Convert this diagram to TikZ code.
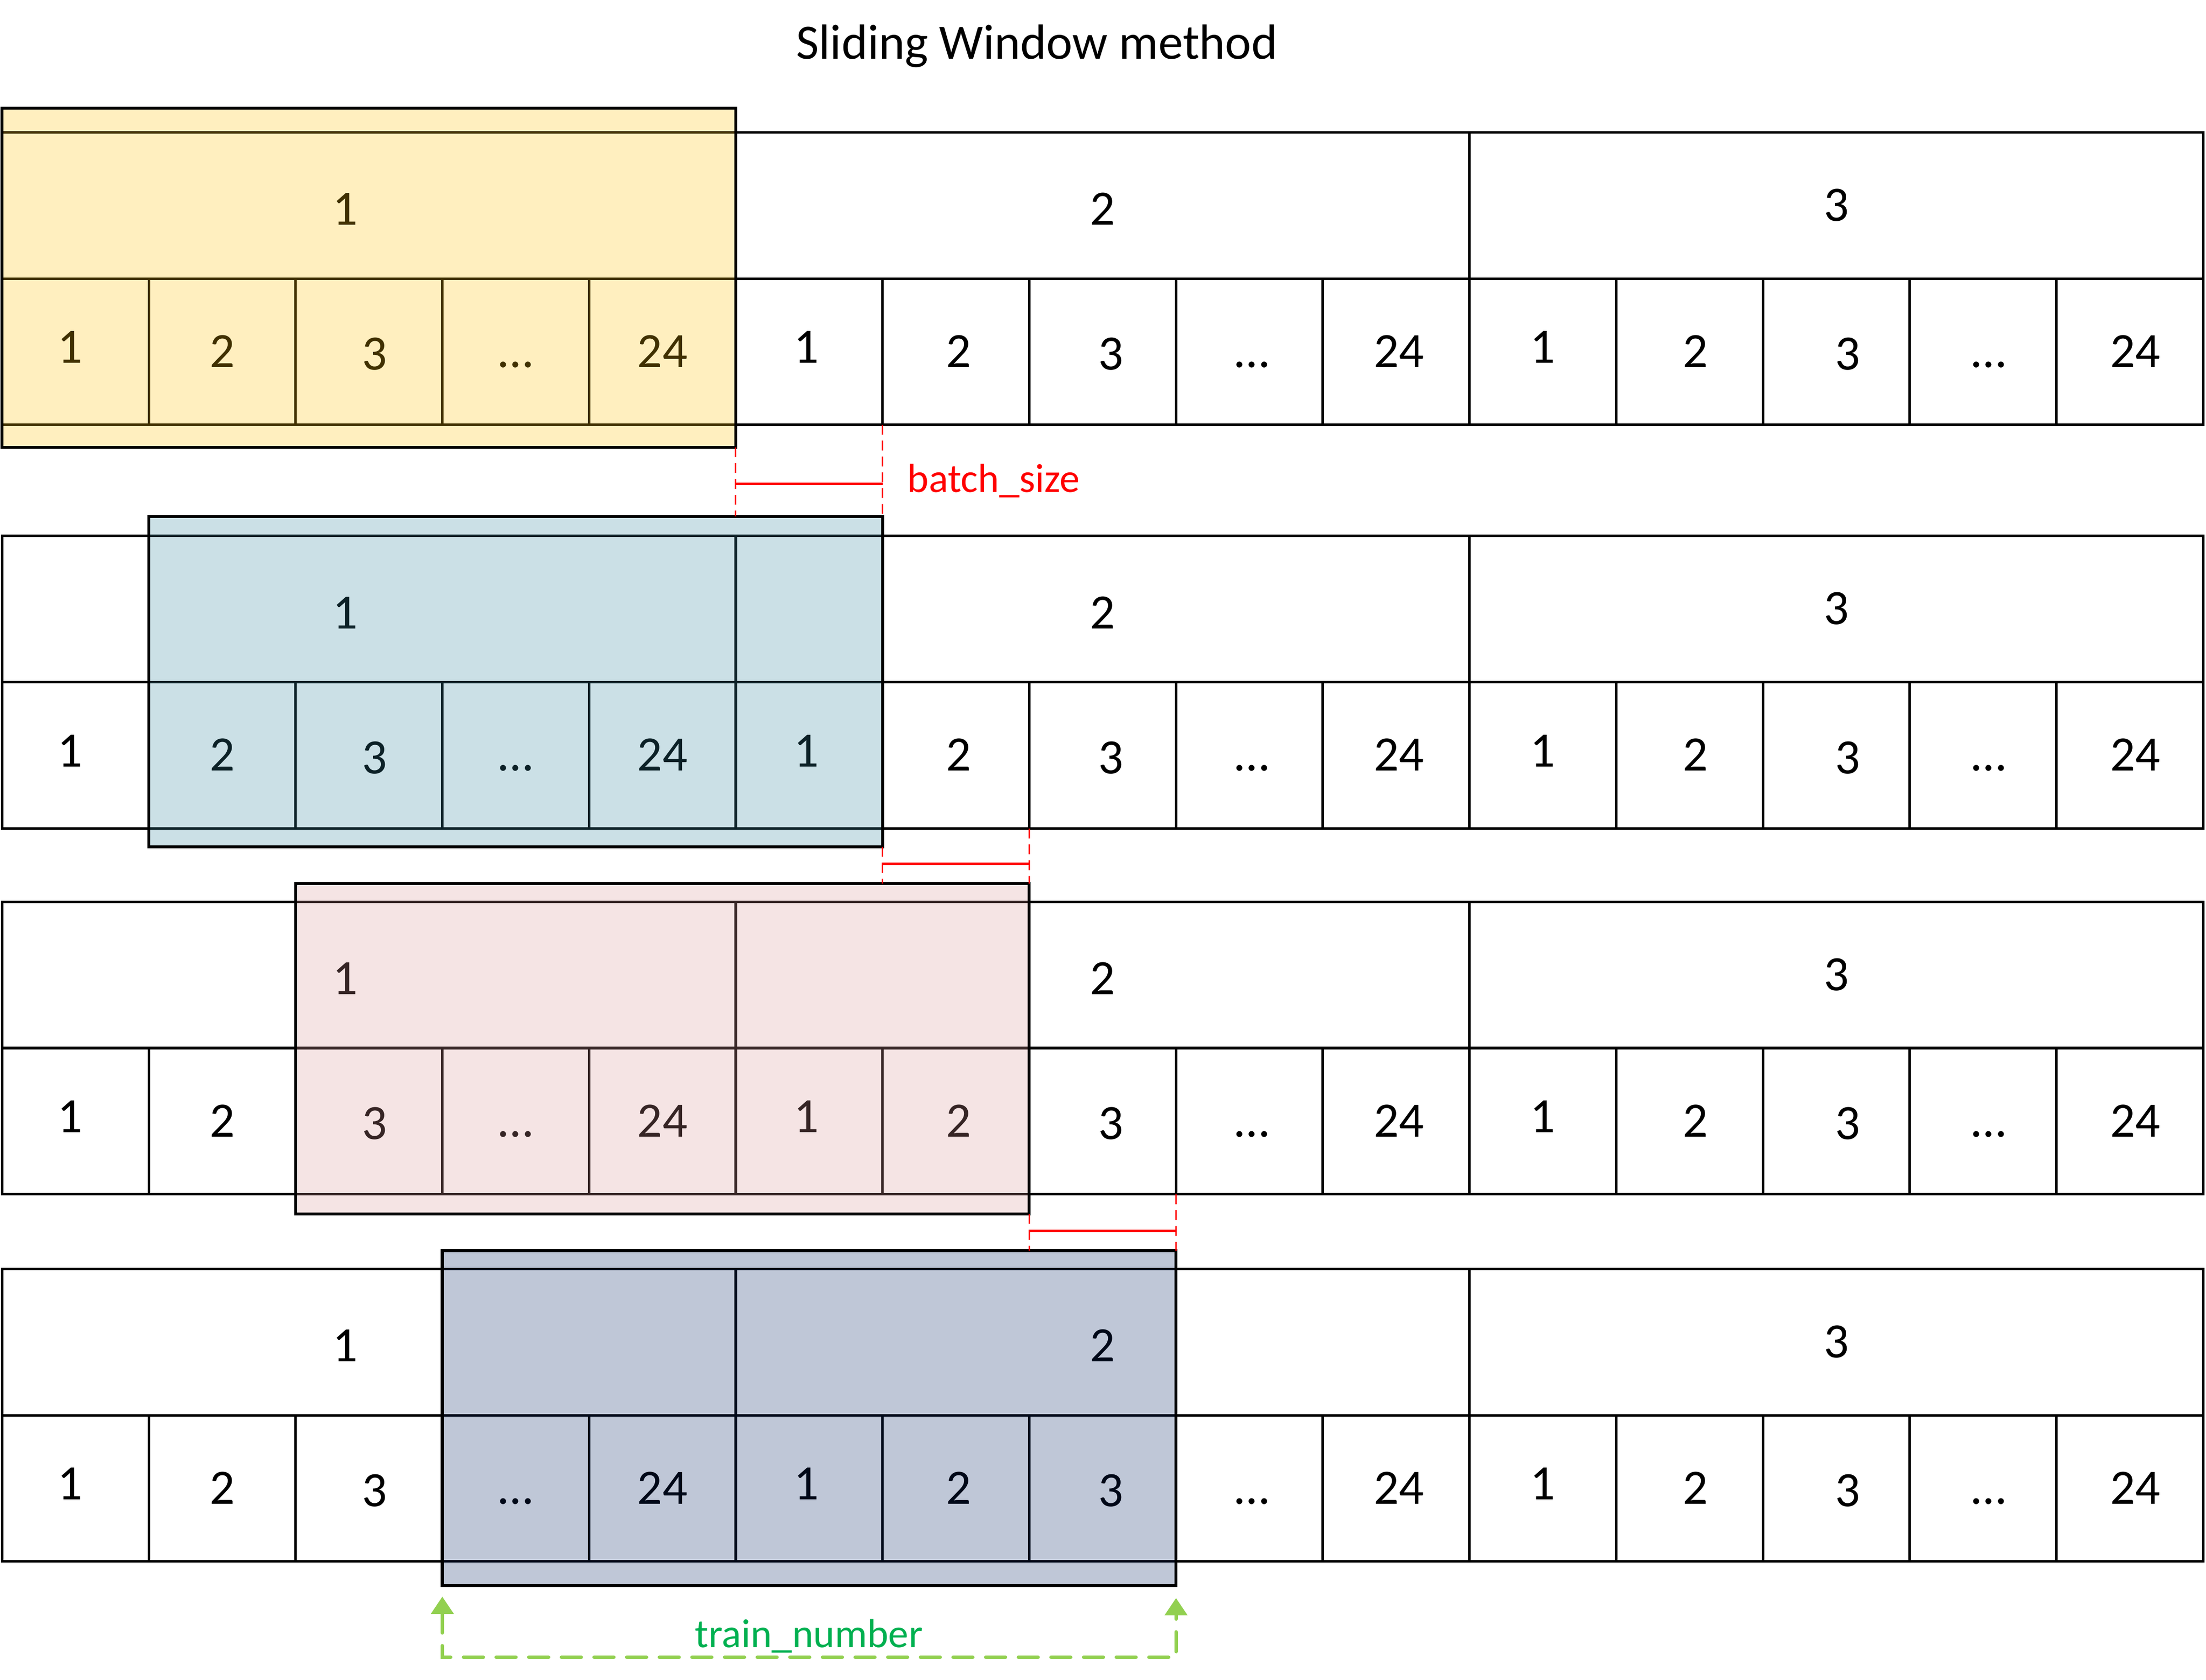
\documentclass[tikz,border=0pt]{standalone}
\usepackage{fontspec}
\setmainfont{Carlito}
\usetikzlibrary{arrows.meta}

\definecolor{winyellow}{HTML}{FFC000}
\definecolor{winteal}{HTML}{31859C}
\definecolor{winpink}{HTML}{D99594}
\definecolor{winnavy}{HTML}{002060}
\definecolor{gapred}{HTML}{FF0000}
\definecolor{trainlime}{HTML}{92D050}
\definecolor{traingreen}{HTML}{00B050}

\begin{document}
\begin{tikzpicture}
[every node/.style={inner sep=0pt,font=\fontsize{10}{12}\selectfont},
 cell/.style={draw,line width=0.5pt},
 window/.style={draw,line width=0.6pt,fill opacity=0.25,inner sep=0pt,outer sep=0pt,
   minimum width=5.215cm,anchor=north west},
 gap/.style={gapred,line width=0.5pt},
 guide/.style={gapred,line width=0.3pt,dash pattern=on 2pt off 1.2pt},
 span/.style={trainlime,line width=0.7pt,dash pattern=on 4pt off 2.6pt,line cap=round,
   {Triangle[width=4.5pt,length=3.5pt]}-{Triangle[width=4.5pt,length=3.5pt]}},
 tag/.style={font=\fontsize{8.2}{10}\selectfont,anchor=base}]
\useasboundingbox (0,0) rectangle (15.68,-11.94);

\node[anchor=base] (title) at (7.37,-0.42) {Sliding Window method};

% four copies of the same sequence
\foreach \r/\t in {1/0.94,2/3.81,3/6.41,4/9.02}{
  \foreach \k in {0,1,2}
    \draw[cell] (0.015+5.215*\k,-\t) rectangle ++(5.215,-1.04);
  \foreach \i in {0,...,14}
    \draw[cell] (0.015+1.043*\i,-\t-1.04) rectangle ++(1.043,-1.04);
  \foreach \i in {0,...,15}
    \coordinate (row\r-\i) at (0.015+1.043*\i,-\t-2.08);
  \foreach \k/\dx/\dy in {1/-0.17/0.66,2/0/0.66,3/0/0.63}
    \node[anchor=base] (day\r-\k) at (0.015+5.215*\k-2.6075+\dx,-\t-\dy) {\k};
  \foreach \g in {0,1,2}
    \foreach \j/\txt/\dx/\dy in {0/1/-0.04/1.64,1/2/0/1.67,2/3/0.04/1.69,3/\ldots/0/1.67,4/24/0/1.67}
      \node[anchor=base] (hour\r-\g-\j) at (0.015+1.043*5*\g+1.043*\j+0.5215+\dx+0.02*\g,-\t-\dy) {\txt};
}

% windows
\node[window,fill=winyellow,minimum height=2.41cm] (win1) at (0.015,-0.77) {};
\node[window,fill=winteal,minimum height=2.35cm] (win2) at (1.058,-3.67) {};
\node[window,fill=winpink,minimum height=2.35cm] (win3) at (2.101,-6.28) {};
\node[window,fill=winnavy,minimum height=2.38cm] (win4) at (3.144,-8.89) {};

% shift between windows
\coordinate (b1l) at (5.23,-3.44);
\coordinate (b1r) at (6.273,-3.44);
\coordinate (b2l) at (6.273,-6.14);
\coordinate (b2r) at (7.316,-6.14);
\coordinate (b3l) at (7.316,-8.75);
\coordinate (b3r) at (8.359,-8.75);
\draw[gap] (b1l) -- (b1r);
\draw[gap] (b2l) -- (b2r);
\draw[gap] (b3l) -- (b3r);
\draw[guide] (win1.south east) -- (win1.south east |- win2.north);
\draw[guide] (row1-6) -- (win2.north east);
\draw[guide] (win2.south east) -- (win2.south east |- win3.north);
\draw[guide] (row2-7) -- (win3.north east);
\draw[guide] (win3.south east) -- (win3.south east |- win4.north);
\draw[guide] (row3-8) -- (win4.north east);
\node[tag,anchor=base west,text=gapred] (batch) at ([xshift=0.17cm,yshift=-0.06cm]b1r) {batch\_size};

% window length
\coordinate (t1) at ([yshift=-0.08cm]win4.south west);
\coordinate (t2) at ([yshift=-0.09cm]win4.south east);
\draw[span] (t1) -- ++(0,-0.43) -| (t2);
\node[tag,text=traingreen] (train) at (5.75,-11.71) {train\_number};
\end{tikzpicture}
\end{document}
